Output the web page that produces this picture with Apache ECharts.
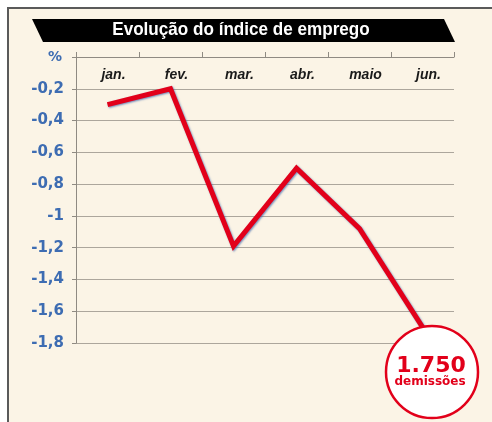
<!DOCTYPE html>
<html>
<head>
<meta charset="utf-8">
<script src="https://cdn.jsdelivr.net/npm/echarts@6/dist/echarts.min.js"></script>
<style>
  html, body {margin: 0; padding: 0; background: #fff;}
  #chart {width: 492px; height: 422px;}
</style>
</head>
<body>
<div id="chart"></div>
<script>
const months = ['jan.', 'fev.', 'mar.', 'abr.', 'maio', 'jun.'];
const indexValues = [-0.3, -0.2, -1.19, -0.7, -1.08, -1.7];
const yTicks = [0, -0.2, -0.4, -0.6, -0.8, -1, -1.2, -1.4, -1.6, -1.8];

const chart = echarts.init(document.getElementById('chart'));

chart.setOption({
  animation: false,
  backgroundColor: '#fff',
  grid: {left: 76, right: 38, top: 57, bottom: 79},
  xAxis: {
    type: 'category',
    position: 'top',
    data: months,
    axisLine: {lineStyle: {color: '#8f8a82', width: 1}},
    axisTick: {show: true, length: 5, lineStyle: {color: '#8f8a82'}},
    axisLabel: {
      inside: true,
      margin: 11,
      color: '#1a1a1a',
      fontStyle: 'italic',
      fontWeight: 'bold',
      fontSize: 14,
      fontFamily: 'Liberation Sans, Arial, sans-serif',
      padding: [0, 0, 0, 12]
    }
  },
  yAxis: {
    type: 'value',
    min: yTicks[yTicks.length - 1],
    max: yTicks[0],
    interval: 0.2,
    axisLine: {show: true, lineStyle: {color: '#8f8a82', width: 1}},
    axisTick: {show: true, length: 4, lineStyle: {color: '#8f8a82'}},
    splitLine: {lineStyle: {color: '#aca69c', width: 1}},
    axisLabel: {
      margin: 12,
      color: '#3d6cb2',
      fontWeight: 'bold',
      fontSize: 15,
      fontFamily: 'DejaVu Sans, sans-serif',
      formatter: (v) => {
        const r = Math.round(v * 10) / 10;
        return r === 0 ? '' : String(r).replace('.', ',');
      }
    }
  },
  graphic: [
    {
      type: 'rect',
      z: -10,
      shape: {x: 8, y: 8, width: 500, height: 430},
      style: {fill: '#fbf4e6', stroke: '#5a5a5a', lineWidth: 2}
    },
    {
      type: 'polygon',
      shape: {points: [[32, 19], [444, 19], [455, 42], [43, 42]]},
      style: {fill: '#000'}
    },
    {
      type: 'text',
      x: 241,
      y: 30,
      scaleX: 0.9,
      style: {
        text: 'Evolução do índice de emprego',
        fill: '#fff',
        font: 'bold 19px "Liberation Sans", Arial, sans-serif',
        align: 'center',
        verticalAlign: 'middle'
      }
    },
    {
      type: 'text',
      x: 55,
      y: 57,
      style: {
        text: '%',
        fill: '#3d6cb2',
        font: 'bold 14px "DejaVu Sans", sans-serif',
        align: 'center',
        verticalAlign: 'middle'
      }
    },
    {
      type: 'circle',
      z: 100,
      shape: {cx: 432, cy: 372, r: 46},
      style: {fill: '#fff', stroke: '#e2001a', lineWidth: 2.5}
    },
    {
      type: 'text',
      z: 101,
      x: 431,
      y: 366,
      style: {
        text: '1.750',
        fill: '#e2001a',
        font: 'bold 22px "DejaVu Sans", sans-serif',
        align: 'center',
        verticalAlign: 'middle'
      }
    },
    {
      type: 'text',
      z: 101,
      x: 430,
      y: 382,
      style: {
        text: 'demissões',
        fill: '#e2001a',
        font: 'bold 12px "DejaVu Sans", sans-serif',
        align: 'center',
        verticalAlign: 'middle'
      }
    }
  ],
  series: [
    {
      type: 'line',
      data: indexValues,
      symbol: 'none',
      lineStyle: {
        color: '#e2001a',
        width: 5,
        join: 'miter',
        shadowColor: 'rgba(60, 100, 170, 0.7)',
        shadowBlur: 2,
        shadowOffsetX: 1,
        shadowOffsetY: 1
      }
    }
  ]
});
</script>
</body>
</html>
